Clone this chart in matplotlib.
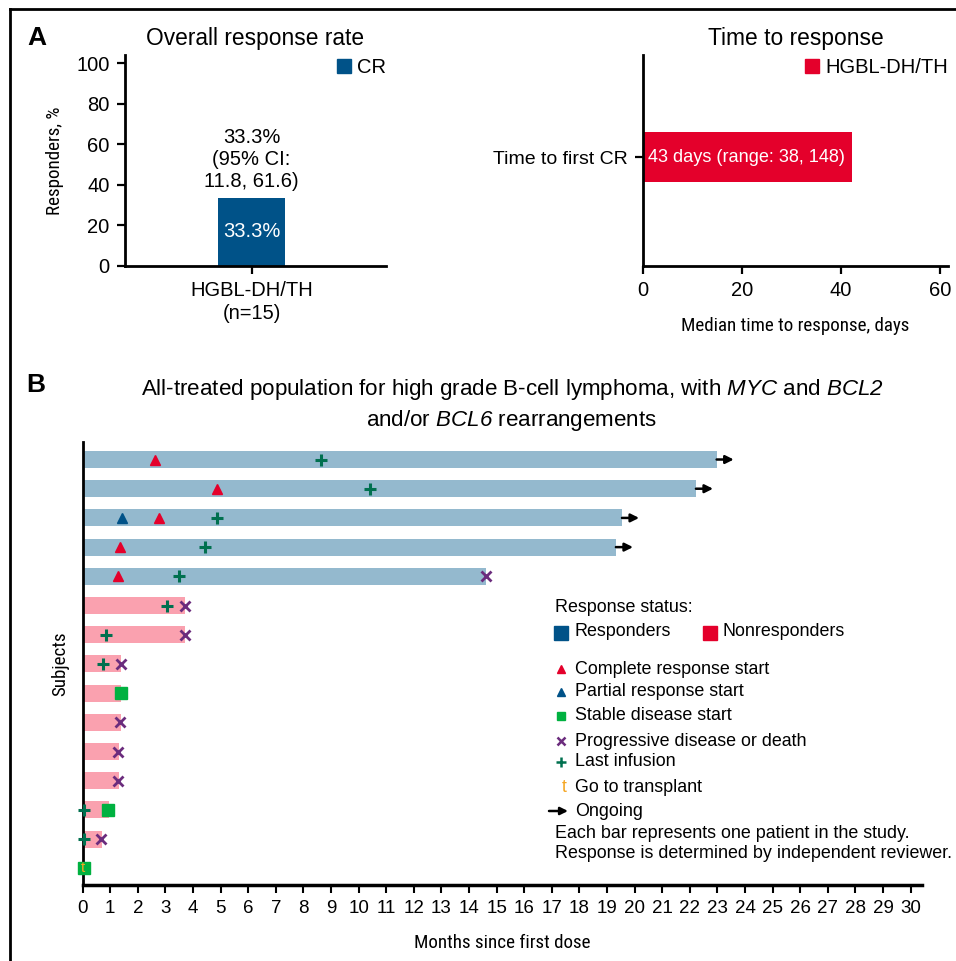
import numpy as np
import matplotlib
matplotlib.use("Agg")
import matplotlib.pyplot as plt
from matplotlib import font_manager
from matplotlib.patches import Patch
from matplotlib.lines import Line2D

plt.rcParams['font.family'] = ['Liberation Sans', 'DejaVu Sans']
# only the gene names go through mathtext, so every math face is italic
plt.rcParams['mathtext.fontset'] = 'custom'
plt.rcParams['mathtext.rm'] = 'Liberation Sans:italic'
plt.rcParams['mathtext.it'] = 'Liberation Sans:italic'

# look for a condensed face for the axis titles, else shrink the regular one
narrow_file = None
for key in ('LiberationSansNarrow-Regular', 'RobotoCondensed-Regular', 'DejaVuSansCondensed.ttf'):
    hits = [f.fname for f in font_manager.fontManager.ttflist if key in f.fname]
    if hits:
        narrow_file = hits[0]
        break
if narrow_file:
    LAB = dict(fontproperties=font_manager.FontProperties(fname=narrow_file, size=13.7))
else:
    LAB = dict(fontsize=12.5)

W, H = 956, 961

# panel A data
orr_group = ["HGBL-DH/TH\n(n=15)"]
orr_cr = [33.3]
orr_note = "33.3%\n(95% CI:\n11.8, 61.6)"
ttr_label = ["Time to first CR"]
ttr_median = [42.2]
ttr_text = "43 days (range: 38, 148)"

# panel B data, subjects numbered 1..15 from the top
bar_end = [22.97, 22.22, 19.54, 19.32, 14.61, 3.71, 3.71, 1.39, 1.39, 1.39,
           1.32, 1.32, 0.95, 0.70, 0.04]
responder = [1, 1, 1, 1, 1, 0, 0, 0, 0, 0, 0, 0, 0, 0, 0]
ongoing_subj = [1, 2, 3, 4]
cr_subj = [1, 2, 3, 4, 5]
cr_month = [2.62, 4.88, 2.78, 1.36, 1.27]
pr_subj = [3]
pr_month = [1.43]
sd_subj = [9, 13, 15]
sd_month = [1.39, 0.93, 0.05]
pd_subj = [5, 6, 7, 8, 10, 11, 12, 14]
pd_month = [14.61, 3.71, 3.71, 1.39, 1.36, 1.29, 1.29, 0.66]
inf_subj = [1, 2, 3, 4, 5, 6, 7, 8, 13, 14]
inf_month = [8.63, 10.41, 4.88, 4.44, 3.48, 3.04, 0.84, 0.75, 0.05, 0.05]
tx_subj = [15]
tx_month = [0.02]
months = list(range(0, 31))

BLUE = '#005288'
RED = '#e4002b'
LBLUE = '#94b9ce'
PINK = '#faa1af'
GREEN = '#00b140'
PURPLE = '#6b2c7d'
DGREEN = '#00704f'
ORANGE = '#f5a623'


def px(x, y):
    return x / W, 1 - y / H


def axbox(l, t, r, b):
    return [l / W, 1 - b / H, (r - l) / W, (b - t) / H]


fig = plt.figure(figsize=(W / 100, H / 100), dpi=100)

# frame lines top and left
fig.add_artist(Line2D([10 / W, 1], [1 - 9 / H, 1 - 9 / H], color='black', lw=2))
fig.add_artist(Line2D([10 / W, 10 / W], [0, 1 - 9 / H], color='black', lw=2))

# ---- A: overall response rate
ax1 = fig.add_axes(axbox(125, 55, 386, 265.7))
xpos = np.arange(len(orr_group))
ax1.bar(xpos, orr_cr, width=0.513, color=BLUE)
ax1.set_xlim(-0.97, 1.03)
ax1.set_ylim(0, 104)
ax1.set_yticks(range(0, 101, 20))
ax1.set_xticks(xpos)
ax1.set_xticklabels(orr_group, linespacing=1.25)
for v, x in zip(orr_cr, xpos):
    ax1.text(x, v + 3.5, orr_note, ha='center', va='bottom', fontsize=14.5, linespacing=1.22)
    ax1.text(x, v / 2, '%.1f%%' % v, ha='center', va='center', color='white', fontsize=14.5)
ax1.legend(handles=[Patch(color=BLUE, label='CR')], loc='upper right', bbox_to_anchor=(1.0, 0.985),
           frameon=False, fontsize=14.5, handlelength=0.7, handleheight=0.7, handletextpad=0.3,
           borderpad=0, borderaxespad=0)
ax1.set_ylabel('Responders, %', labelpad=9, **LAB)

# ---- A: time to response
ax2 = fig.add_axes(axbox(643, 55, 948, 265.7))
ypos = np.arange(len(ttr_label))
ax2.barh(ypos, ttr_median, height=0.475, color=RED)
ax2.set_ylim(-1.03, 0.97)
ax2.set_xlim(0, 61.6)
ax2.set_xticks([0, 20, 40, 60])
ax2.set_yticks(ypos)
ax2.set_yticklabels(ttr_label)
for y in ypos:
    ax2.text(1.0, y, ttr_text, ha='left', va='center', color='white', fontsize=13.1)
ax2.legend(handles=[Patch(color=RED, label='HGBL-DH/TH')], loc='upper right', bbox_to_anchor=(1.0, 0.985),
           frameon=False, fontsize=14.5, handlelength=0.7, handleheight=0.7, handletextpad=0.3,
           borderpad=0, borderaxespad=0)
ax2.set_xlabel('Median time to response, days', labelpad=12, **LAB)

for ax in (ax1, ax2):
    ax.spines['top'].set_visible(False)
    ax.spines['right'].set_visible(False)
    ax.spines['left'].set_linewidth(2)
    ax.spines['bottom'].set_linewidth(2)
    ax.tick_params(length=6, width=1.6, labelsize=14.5, pad=5)
ax2.tick_params(axis='y', labelsize=14)

fig.text(*px(37, 38), 'A', fontsize=19, fontweight='bold', ha='center', va='center')
fig.text(*px(255, 39), 'Overall response rate', fontsize=16.4, ha='center', va='center')
fig.text(*px(796, 39), 'Time to response', fontsize=16.4, ha='center', va='center')

# ---- B: swimmer plot
ax3 = fig.add_axes(axbox(82.7, 441.7, 921.7, 885))
n = len(bar_end)


def ypos_of(subj):
    return [n - s for s in subj]


colors = [LBLUE if r else PINK for r in responder]
ax3.barh(ypos_of(range(1, n + 1)), bar_end, height=0.58, color=colors, zorder=1)
for s in ongoing_subj:
    e = bar_end[s - 1]
    ax3.annotate('', xy=(e + 0.62, n - s), xytext=(e, n - s),
                 arrowprops=dict(arrowstyle='-|>', color='black', lw=1.8,
                                 mutation_scale=12, shrinkA=0, shrinkB=0))
mk = dict(linestyle='none', clip_on=False, zorder=5)
ax3.plot(cr_month, ypos_of(cr_subj), marker='^', ms=7, color=RED, **mk)
ax3.plot(pr_month, ypos_of(pr_subj), marker='^', ms=7, color=BLUE, **mk)
ax3.plot(sd_month, ypos_of(sd_subj), marker='s', ms=8, color=GREEN, **mk)
ax3.plot(pd_month, ypos_of(pd_subj), marker='x', ms=7, mew=2, color=PURPLE, **mk)
ax3.plot(inf_month, ypos_of(inf_subj), marker='+', ms=8.5, mew=2.2, color=DGREEN, **mk)
for xm, ym in zip(tx_month, ypos_of(tx_subj)):
    ax3.text(xm, ym, 't', color=ORANGE, fontsize=11, ha='center', va='center', zorder=6, clip_on=False)

ax3.set_xlim(0, 30.4)
ax3.set_ylim(-0.57, n - 1 + 0.61)
ax3.set_xticks(months)
ax3.set_yticks([])
ax3.spines['top'].set_visible(False)
ax3.spines['right'].set_visible(False)
ax3.spines['left'].set_linewidth(2)
ax3.spines['bottom'].set_linewidth(2.5)
ax3.tick_params(axis='x', length=6, width=1.5, labelsize=13.5, pad=5)
ax3.set_xlabel('Months since first dose', labelpad=12, **LAB)
ax3.set_ylabel('Subjects', labelpad=10, **LAB)

fig.text(*px(36, 385), 'B', fontsize=19, fontweight='bold', ha='center', va='center')
fig.text(*px(512, 390), r'All-treated population for high grade B-cell lymphoma, with $MYC$ and $BCL2$',
         fontsize=16.1, ha='center', va='center')
fig.text(*px(511, 420), r'and/or $BCL6$ rearrangements', fontsize=16.1, ha='center', va='center')

# ---- B legend (drawn in figure pixel space)
lax = fig.add_axes([0, 0, 1, 1], zorder=10)
lax.set_xlim(0, W)
lax.set_ylim(H, 0)
lax.axis('off')
fs = 12.9
lax.text(555, 608, 'Response status:', fontsize=fs, va='center')
lax.plot(561.5, 632.5, marker='s', ms=9.5, color=BLUE, linestyle='none')
lax.text(575, 632, 'Responders', fontsize=fs, va='center')
lax.plot(710, 632.5, marker='s', ms=9.5, color=RED, linestyle='none')
lax.text(723, 632, 'Nonresponders', fontsize=fs, va='center')
keys = [('^', RED, 'Complete response start', 669),
        ('^', BLUE, 'Partial response start', 692),
        ('s', GREEN, 'Stable disease start', 716),
        ('x', PURPLE, 'Progressive disease or death', 741),
        ('+', DGREEN, 'Last infusion', 762)]
for m, c, lab, y in keys:
    size = {'^': 5.5, 's': 6, 'x': 5.5, '+': 6.5}[m]
    lax.plot(561, y, marker=m, ms=size, mew=1.8 if m in ('x', '+') else 1, color=c, linestyle='none')
    lax.text(575, y, lab, fontsize=fs, va='center')
lax.text(564, 787, 't', color=ORANGE, fontsize=fs, ha='center', va='center')
lax.text(575, 787, 'Go to transplant', fontsize=fs, va='center')
lax.annotate('', xy=(568, 811), xytext=(549, 811),
             arrowprops=dict(arrowstyle='-|>', color='black', lw=1.8, mutation_scale=11,
                             shrinkA=0, shrinkB=0))
lax.text(575, 811, 'Ongoing', fontsize=fs, va='center')
lax.text(555, 834, 'Each bar represents one patient in the study.', fontsize=fs, va='center')
lax.text(555, 854, 'Response is determined by independent reviewer.', fontsize=fs, va='center')

fig.savefig('out.png', dpi=100)
